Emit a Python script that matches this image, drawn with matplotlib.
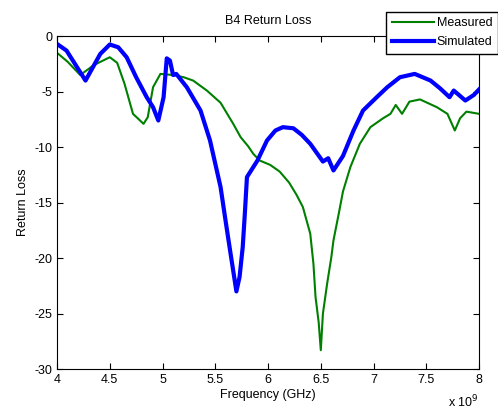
import numpy as np
import matplotlib
matplotlib.use("Agg")
import matplotlib.pyplot as plt
from matplotlib.ticker import FuncFormatter

plt.rcParams["font.family"] = ["Liberation Sans", "DejaVu Sans"]
plt.rcParams["font.size"] = 9

# measured return loss (frequency in GHz, value in dB)
meas_f = [4.0, 4.1, 4.22, 4.35, 4.5, 4.57, 4.64, 4.72, 4.82, 4.86, 4.91, 4.98,
          5.1, 5.2, 5.29, 5.42, 5.55, 5.67, 5.74, 5.81, 5.86, 5.92, 6.02, 6.11, 6.2,
          6.27, 6.33, 6.4, 6.43, 6.45, 6.48, 6.5, 6.52, 6.56, 6.6, 6.62, 6.67,
          6.71, 6.78, 6.87, 6.97, 7.09, 7.16, 7.21, 7.27, 7.34, 7.44, 7.6, 7.7,
          7.77, 7.82, 7.88, 8.0]
meas_v = [-1.5, -2.3, -3.5, -2.6, -1.9, -2.4, -4.3, -7.0, -7.9, -7.3, -4.6, -3.4,
          -3.5, -3.7, -4.0, -4.9, -6.0, -7.9, -9.1, -9.9, -10.6, -11.2, -11.6, -12.2, -13.2,
          -14.3, -15.4, -17.8, -20.5, -23.5, -25.8, -28.3, -25.0, -22.3, -19.9, -18.4, -16.0,
          -14.0, -11.8, -9.7, -8.2, -7.4, -7.0, -6.2, -7.0, -5.9, -5.7, -6.4, -7.0,
          -8.5, -7.4, -6.8, -7.0]

# simulated return loss
sim_f = [4.0, 4.09, 4.19, 4.27, 4.34, 4.41, 4.5, 4.58, 4.66, 4.75, 4.85, 4.87,
         4.91, 4.96, 5.01, 5.04, 5.07, 5.1, 5.13, 5.23, 5.36, 5.45, 5.55, 5.6,
         5.64, 5.7, 5.73, 5.76, 5.78, 5.8, 5.9, 5.99, 6.07, 6.14, 6.24, 6.32, 6.4, 6.52,
         6.57, 6.62, 6.71, 6.81, 6.9, 7.03, 7.13, 7.25, 7.39, 7.54, 7.63, 7.72,
         7.76, 7.87, 7.95, 8.0]
sim_v = [-0.7, -1.3, -2.8, -4.0, -2.8, -1.6, -0.75, -1.0, -1.9, -3.7, -5.5, -5.8,
         -6.4, -7.6, -5.5, -2.0, -2.2, -3.5, -3.4, -4.6, -6.7, -9.4, -13.6, -16.8,
         -19.3, -23.0, -21.7, -19.0, -16.0, -12.7, -11.2, -9.4, -8.5, -8.2, -8.3, -8.9, -9.7, -11.3,
         -11.0, -12.1, -10.8, -8.5, -6.7, -5.5, -4.6, -3.7, -3.4, -4.0, -4.7, -5.5,
         -4.9, -5.8, -5.3, -4.8]

fig = plt.figure(figsize=(4.98, 4.11), dpi=100)
ax = fig.add_axes([0.1145, 0.102, 0.8475, 0.81])

ax.plot(np.array(meas_f) * 1e9, meas_v, color="#008000", lw=1.5, label="Measured")
ax.plot(np.array(sim_f) * 1e9, sim_v, color="#0000ff", lw=3, label="Simulated")

ax.set_xlim(4e9, 8e9)
ax.set_ylim(-30, 0)
ax.set_xticks(np.arange(4e9, 8.01e9, 0.5e9))
ax.set_yticks(np.arange(-30, 1, 5))
ax.xaxis.set_major_formatter(FuncFormatter(lambda x, p: "%g" % (x / 1e9)))
ax.yaxis.set_major_formatter(FuncFormatter(lambda y, p: "%g" % y))
ax.tick_params(direction="in", top=True, right=True, length=4)
ax.text(1.0, -0.1, r"x 10$^{9}$", transform=ax.transAxes, ha="right", va="center")

ax.set_title("B4 Return Loss", fontsize=9, pad=9)
ax.set_xlabel("Frequency (GHz)", labelpad=2)
ax.set_ylabel("Return Loss", labelpad=4)

fig.legend(loc="upper right", bbox_to_anchor=(1.0, 0.972), fancybox=False,
           edgecolor="black", framealpha=1, borderaxespad=0, handlelength=3.4,
           borderpad=0.45, labelspacing=0.55, handletextpad=0.2)

fig.savefig("out.png", dpi=100)
